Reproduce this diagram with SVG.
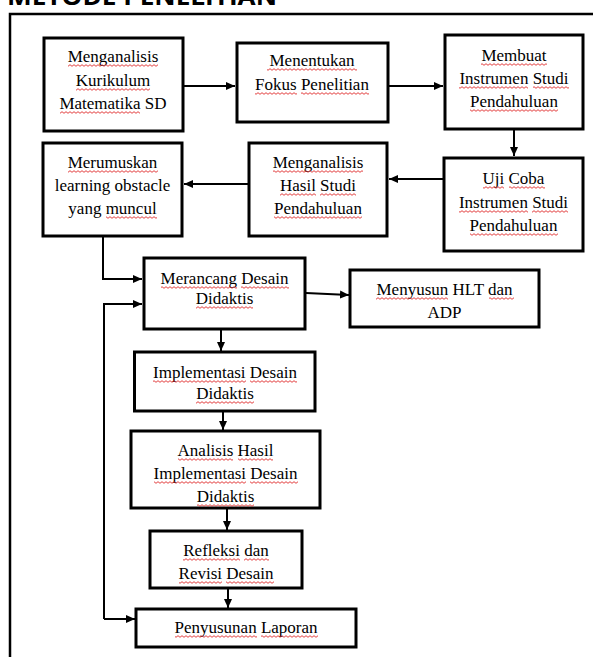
<svg xmlns="http://www.w3.org/2000/svg" width="593" height="657" viewBox="0 0 593 657">
<style>
.bx{fill:#fff;stroke:#000;stroke-width:3}
.t{font-family:"Liberation Serif","Times New Roman",serif;font-size:17px;fill:#000;text-anchor:middle}
.c{fill:none;stroke:#000;stroke-width:2}
.ul{fill:url(#wv)}
.ttl{font-family:"Open Sans","Liberation Sans",sans-serif;font-weight:bold;font-size:24px;fill:#000}
</style>
<defs>
<marker id="ah" markerUnits="userSpaceOnUse" markerWidth="10" markerHeight="10" viewBox="0 0 10 10" refX="9" refY="5" orient="auto">
<path d="M0,1 L9,5 L0,9 Z" fill="#000"/>
</marker>
<pattern id="wv" patternUnits="userSpaceOnUse" width="4" height="3">
<path d="M0 2.3 L2 0.7 L4 2.3" fill="none" stroke="#e02a2a" stroke-width="0.9"/>
</pattern>
</defs>
<rect width="593" height="657" fill="#fff"/>
<text class="ttl" x="7" y="4.5" textLength="270" lengthAdjust="spacingAndGlyphs">METODE PENELITIAN</text>
<path d="M10 657 V14 H593" fill="none" stroke="#000" stroke-width="2.5"/>

<g id="n1">
<rect class="bx" x="44" y="38" width="139" height="93"/>
<text class="t" x="113" y="62">Menganalisis</text>
<text class="t" x="113" y="86">Kurikulum</text>
<text class="t" x="113" y="109">Matematika SD</text>
<rect class="ul" transform="translate(0,64)" x="68" width="90" height="3"/>
<rect class="ul" transform="translate(0,88)" x="76" width="74" height="3"/>
<rect class="ul" transform="translate(0,111)" x="60" width="80" height="3"/>
</g>
<g id="n2">
<rect class="bx" x="237" y="43" width="151" height="79"/>
<text class="t" x="312" y="66">Menentukan</text>
<text class="t" x="312" y="90">Fokus Penelitian</text>
<rect class="ul" transform="translate(0,68)" x="267" width="90" height="3"/>
<rect class="ul" transform="translate(0,92)" x="255" width="42" height="3"/>
<rect class="ul" transform="translate(0,92)" x="301" width="68" height="3"/>
</g>
<g id="n3">
<rect class="bx" x="445" y="35" width="138" height="94"/>
<text class="t" x="514" y="61">Membuat</text>
<text class="t" x="514" y="84">Instrumen Studi</text>
<text class="t" x="514" y="107">Pendahuluan</text>
<rect class="ul" transform="translate(0,63)" x="481" width="66" height="3"/>
<rect class="ul" transform="translate(0,86)" x="459" width="69" height="3"/>
<rect class="ul" transform="translate(0,86)" x="533" width="36" height="3"/>
<rect class="ul" transform="translate(0,109)" x="470" width="88" height="3"/>
</g>
<g id="n4">
<rect class="bx" x="444" y="158" width="139" height="93"/>
<text class="t" x="513.5" y="184">Uji Coba</text>
<text class="t" x="513.5" y="208">Instrumen Studi</text>
<text class="t" x="513.5" y="231">Pendahuluan</text>
<rect class="ul" transform="translate(0,186)" x="483" width="21" height="3"/>
<rect class="ul" transform="translate(0,186)" x="509" width="36" height="3"/>
<rect class="ul" transform="translate(0,210)" x="459" width="69" height="3"/>
<rect class="ul" transform="translate(0,210)" x="532" width="36" height="3"/>
<rect class="ul" transform="translate(0,233)" x="470" width="88" height="3"/>
</g>
<g id="n5">
<rect class="bx" x="249" y="143" width="138" height="93"/>
<text class="t" x="318" y="168">Menganalisis</text>
<text class="t" x="318" y="191">Hasil Studi</text>
<text class="t" x="318" y="214">Pendahuluan</text>
<rect class="ul" transform="translate(0,170)" x="273" width="90" height="3"/>
<rect class="ul" transform="translate(0,193)" x="280" width="36" height="3"/>
<rect class="ul" transform="translate(0,193)" x="320" width="36" height="3"/>
<rect class="ul" transform="translate(0,216)" x="274" width="88" height="3"/>
</g>
<g id="n6">
<rect class="bx" x="43" y="143" width="139" height="93"/>
<text class="t" x="112.5" y="168">Merumuskan</text>
<text class="t" x="112.5" y="191">learning obstacle</text>
<text class="t" x="112.5" y="214">yang muncul</text>
<rect class="ul" transform="translate(0,170)" x="68" width="90" height="3"/>
<rect class="ul" transform="translate(0,216)" x="106" width="51" height="3"/>
</g>
<g id="n7">
<rect class="bx" x="144" y="258" width="161" height="71"/>
<text class="t" x="224.5" y="284">Merancang Desain</text>
<text class="t" x="224.5" y="304">Didaktis</text>
<rect class="ul" transform="translate(0,286)" x="161" width="76" height="3"/>
<rect class="ul" transform="translate(0,286)" x="241" width="48" height="3"/>
<rect class="ul" transform="translate(0,306)" x="196" width="57" height="3"/>
</g>
<g id="n8">
<rect class="bx" x="350" y="270" width="189" height="57"/>
<text class="t" x="444.5" y="295">Menyusun HLT dan</text>
<text class="t" x="444.5" y="318">ADP</text>
<rect class="ul" transform="translate(0,297)" x="376" width="72" height="3"/>
<rect class="ul" transform="translate(0,297)" x="489" width="25" height="3"/>
</g>
<g id="n9">
<rect class="bx" x="134.5" y="352" width="180.5" height="59"/>
<text class="t" x="225" y="378">Implementasi Desain</text>
<text class="t" x="225" y="399">Didaktis</text>
<rect class="ul" transform="translate(0,380)" x="153" width="93" height="3"/>
<rect class="ul" transform="translate(0,380)" x="250" width="47" height="3"/>
<rect class="ul" transform="translate(0,401)" x="196" width="58" height="3"/>
</g>
<g id="n10">
<rect class="bx" x="131" y="431" width="189" height="77"/>
<text class="t" x="225.5" y="456">Analisis Hasil</text>
<text class="t" x="225.5" y="479">Implementasi Desain</text>
<text class="t" x="225.5" y="502">Didaktis</text>
<rect class="ul" transform="translate(0,458)" x="178" width="55" height="3"/>
<rect class="ul" transform="translate(0,458)" x="238" width="35" height="3"/>
<rect class="ul" transform="translate(0,481)" x="154" width="92" height="3"/>
<rect class="ul" transform="translate(0,481)" x="250" width="48" height="3"/>
<rect class="ul" transform="translate(0,504)" x="197" width="57" height="3"/>
</g>
<g id="n11">
<rect class="bx" x="150" y="531" width="152" height="57"/>
<text class="t" x="226" y="556">Refleksi dan</text>
<text class="t" x="226" y="579">Revisi Desain</text>
<rect class="ul" transform="translate(0,558)" x="183" width="57" height="3"/>
<rect class="ul" transform="translate(0,558)" x="244" width="25" height="3"/>
<rect class="ul" transform="translate(0,581)" x="179" width="43" height="3"/>
<rect class="ul" transform="translate(0,581)" x="226" width="48" height="3"/>
</g>
<g id="n12">
<rect class="bx" x="136" y="609" width="220" height="38"/>
<text class="t" x="246" y="633">Penyusunan Laporan</text>
<rect class="ul" transform="translate(0,635)" x="175" width="82" height="3"/>
<rect class="ul" transform="translate(0,635)" x="261" width="57" height="3"/>
</g>

<g id="connectors">
<path class="c" d="M184 86 H235" marker-end="url(#ah)"/>
<path class="c" d="M389 86 H443" marker-end="url(#ah)"/>
<path class="c" d="M514 130 V156" marker-end="url(#ah)"/>
<path class="c" d="M443 179 H389" marker-end="url(#ah)"/>
<path class="c" d="M248 184 H184" marker-end="url(#ah)"/>
<path class="c" d="M103 236 V279 H142" marker-end="url(#ah)"/>
<path class="c" d="M306 293 L349 295" marker-end="url(#ah)"/>
<path class="c" d="M221 330 V351" marker-end="url(#ah)"/>
<path class="c" d="M223 412 V430" marker-end="url(#ah)"/>
<path class="c" d="M227 509 V530" marker-end="url(#ah)"/>
<path class="c" d="M228 589 V608" marker-end="url(#ah)"/>
<path class="c" d="M104 619 V304 H142" marker-end="url(#ah)"/>
<path class="c" d="M104 619 H135" marker-end="url(#ah)"/>
</g>
</svg>
